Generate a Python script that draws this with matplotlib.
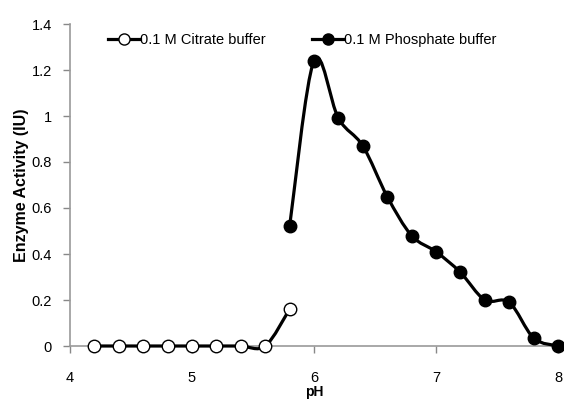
import numpy as np
import matplotlib
matplotlib.use("Agg")
import matplotlib.pyplot as plt
from matplotlib.path import Path
from matplotlib.patches import PathPatch
from matplotlib.lines import Line2D

# Data
citrate_ph = [4.2, 4.4, 4.6, 4.8, 5.0, 5.2, 5.4, 5.6, 5.8]
citrate_act = [0, 0, 0, 0, 0, 0, 0, 0, 0.16]
phosphate_ph = [5.8, 6.0, 6.2, 6.4, 6.6, 6.8, 7.0, 7.2, 7.4, 7.6, 7.8, 8.0]
phosphate_act = [0.52, 1.24, 0.99, 0.87, 0.65, 0.48, 0.41, 0.32, 0.20, 0.19, 0.035, 0.0]
x_ticks = [4, 5, 6, 7, 8]
y_ticks = [0, 0.2, 0.4, 0.6, 0.8, 1, 1.2, 1.4]
y_ticklabels = ["0", "0.2", "0.4", "0.6", "0.8", "1", "1.2", "1.4"]
labels = ["0.1 M Citrate buffer", "0.1 M Phosphate buffer"]

plt.rcParams['font.family'] = ['Liberation Sans', 'DejaVu Sans']

fig = plt.figure(figsize=(5.64, 3.99), dpi=100)
ax = fig.add_axes([70/564, 1 - 346/399, (558-70)/564, (346-24)/399])


def smooth_path(x, y, t=1/6):
    x = np.asarray(x, float); y = np.asarray(y, float)
    n = len(x)
    verts = [(x[0], y[0])]
    codes = [Path.MOVETO]
    for i in range(n - 1):
        i0 = max(i - 1, 0); i3 = min(i + 2, n - 1)
        c1 = (x[i] + (x[i+1] - x[i0]) * t, y[i] + (y[i+1] - y[i0]) * t)
        c2 = (x[i+1] - (x[i3] - x[i]) * t, y[i+1] - (y[i3] - y[i]) * t)
        verts += [c1, c2, (x[i+1], y[i+1])]
        codes += [Path.CURVE4] * 3
    return Path(verts, codes)

lw = 2.3
ms = 9
for xs, ys, fc in [(citrate_ph, citrate_act, 'white'), (phosphate_ph, phosphate_act, 'black')]:
    ax.add_patch(PathPatch(smooth_path(xs, ys), fill=False, edgecolor='black', lw=lw,
                           clip_on=False, zorder=3))
    ax.plot(xs, ys, linestyle='none', marker='o', ms=ms, mfc=fc, mec='black', mew=1.0,
            clip_on=False, zorder=4)

ax.set_xlim(4, 8)
ax.set_ylim(0, 1.4)
ax.set_xticks(x_ticks)
ax.set_yticks(y_ticks)
ax.set_yticklabels(y_ticklabels)
ax.tick_params(axis='both', colors='#888888', labelcolor='black', labelsize=10.5,
               length=5, width=1)
ax.tick_params(axis='x', pad=13)
ax.tick_params(axis='y', pad=8)
for s in ['top', 'right']:
    ax.spines[s].set_visible(False)
for s in ['left', 'bottom']:
    ax.spines[s].set_color('#999999')
    ax.spines[s].set_linewidth(1.2)

ax.set_ylabel("Enzyme Activity (IU)", fontsize=11.5, fontweight='bold', labelpad=2)
ax.set_xlabel("pH", fontsize=10, fontweight='bold', labelpad=0)

handles = [Line2D([], [], color='black', lw=lw, marker='o', ms=ms-1, mfc='white', mec='black'),
           Line2D([], [], color='black', lw=lw, marker='o', ms=ms-1, mfc='black', mec='black')]
ax.legend(handles, labels, ncol=2, frameon=False, loc='upper left',
          bbox_to_anchor=(0.06, 1.0), fontsize=10.5, handlelength=2.2,
          handletextpad=0.0, columnspacing=3.2, borderaxespad=0.2)

fig.savefig("out.png", dpi=100)
